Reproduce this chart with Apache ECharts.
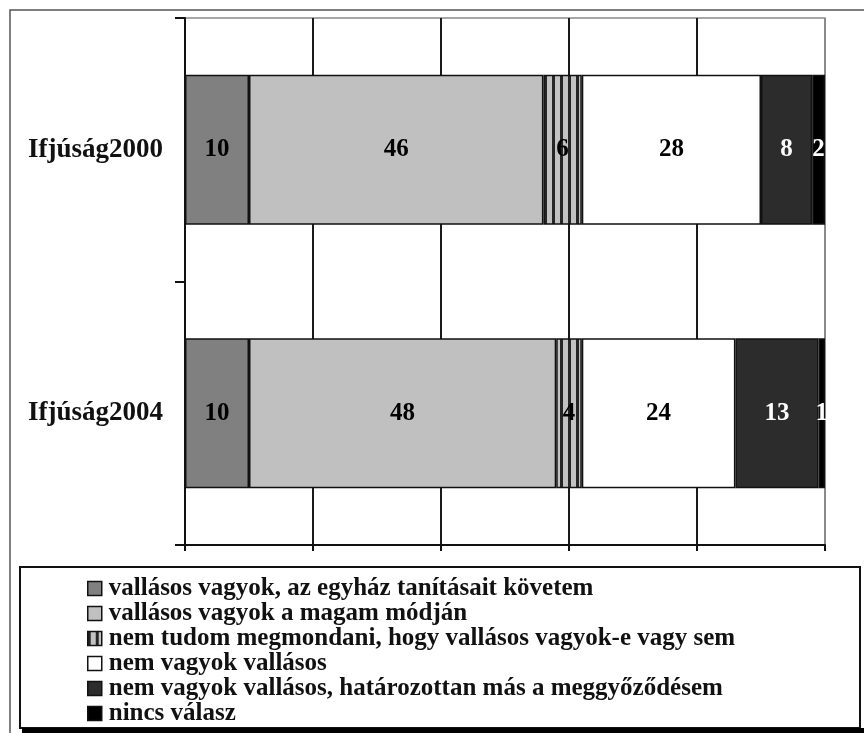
<!DOCTYPE html>
<html>
<head>
<meta charset="utf-8">
<script src="https://cdn.jsdelivr.net/npm/echarts@6/dist/echarts.min.js"></script>
<style>
  html, body { margin: 0; padding: 0; background: #fff; }
  #chart { width: 864px; height: 733px; }
</style>
</head>
<body>
<div id="chart"></div>
<script>
// Survey waves (one horizontal bar each)
const categories = ['Ifjúság2000', 'Ifjúság2004'];

// Answer options, in stacking order
const answerNames = [
  'vallásos vagyok, az egyház tanításait követem',
  'vallásos vagyok a magam módján',
  'nem tudom megmondani, hogy vallásos vagyok-e vagy sem',
  'nem vagyok vallásos',
  'nem vagyok vallásos, határozottan más a meggyőződésem',
  'nincs válasz'
];

// Percentages per wave
const followsChurch   = [10, 10];
const ownWay          = [46, 48];
const cannotSay       = [6, 4];
const notReligious    = [28, 24];
const otherConviction = [8, 13];
const noAnswer        = [2, 1];

// Value axis ticks
const xTicks = [0, 20, 40, 60, 80, 100];

const seriesValues = [followsChurch, ownWay, cannotSay, notReligious, otherConviction, noAnswer];

// Vertical stripe fill for the "cannot say" segment
function stripePattern() {
  const c = document.createElement('canvas');
  c.width = 8; c.height = 8;
  const g = c.getContext('2d');
  g.fillStyle = '#c2c2c2';
  g.fillRect(0, 0, 8, 8);
  g.fillStyle = '#262626';
  g.fillRect(0, 0, 3, 8);
  return { image: c, repeat: 'repeat' };
}

const fills = ['#808080', '#c0c0c0', stripePattern(), '#ffffff', '#2c2c2c', '#000000'];
const labelColors = ['#000', '#000', '#000', '#000', '#fff', '#fff'];

const serifFont = '"Liberation Serif", "Times New Roman", serif';

const chart = echarts.init(document.getElementById('chart'), null, { renderer: 'canvas' });

chart.setOption({
  backgroundColor: '#ffffff',
  animation: false,
  grid: {
    left: 185, right: 39, top: 18, bottom: 188,
    show: true, borderColor: '#8a8a8a', borderWidth: 1.5, backgroundColor: 'transparent'
  },
  xAxis: {
    type: 'value',
    min: xTicks[0],
    max: xTicks[xTicks.length - 1],
    interval: xTicks[1] - xTicks[0],
    axisLine: { show: true, lineStyle: { color: '#111', width: 2 } },
    axisTick: { show: true, length: 6, lineStyle: { color: '#111', width: 2 } },
    axisLabel: { show: false },
    splitLine: {
      show: true,
      lineStyle: { color: ['#1a1a1a', '#1a1a1a', '#1a1a1a', '#1a1a1a', '#1a1a1a', '#8a8a8a'], width: 2 }
    }
  },
  yAxis: {
    type: 'category',
    data: categories,
    inverse: true,
    axisLine: { show: true, lineStyle: { color: '#111', width: 2 } },
    axisTick: { show: true, length: 10, lineStyle: { color: '#111', width: 2 } },
    axisLabel: {
      margin: 22,
      color: '#111',
      fontFamily: serifFont,
      fontWeight: 'bold',
      fontSize: 27
    },
    splitLine: { show: false }
  },
  legend: {
    orient: 'vertical',
    left: 82,
    top: 571,
    height: 220,
    itemWidth: 14,
    itemHeight: 14,
    itemGap: 0,
    icon: 'rect',
    itemStyle: { borderColor: '#111', borderWidth: 1.5 },
    textStyle: {
      color: '#111',
      fontFamily: serifFont,
      fontWeight: 'bold',
      fontSize: 25,
      lineHeight: 25,
      padding: [0, 0, 0, 2]
    },
    data: answerNames
  },
  graphic: [
    // outer frame
    {
      type: 'rect', z: 0, silent: true,
      shape: { x: 10, y: 10, width: 880, height: 760 },
      style: { fill: 'none', stroke: '#555', lineWidth: 1.5 }
    },
    // legend frame
    {
      type: 'rect', z: 0, silent: true,
      shape: { x: 20, y: 567, width: 840, height: 161 },
      style: { fill: '#fff', stroke: '#111', lineWidth: 2 }
    },
    // legend drop shadow along the bottom
    {
      type: 'rect', z: 200, silent: true,
      shape: { x: 22, y: 728, width: 850, height: 6 },
      style: { fill: '#000' }
    }
  ],
  series: answerNames.map((name, i) => ({
    name: name,
    type: 'bar',
    stack: 'total',
    barWidth: '57%',
    data: seriesValues[i],
    itemStyle: { color: fills[i], borderColor: '#111', borderWidth: 1.5 },
    label: {
      show: true,
      position: 'inside',
      color: labelColors[i],
      fontFamily: serifFont,
      fontWeight: 'bold',
      fontSize: 25
    }
  }))
});
</script>
</body>
</html>
